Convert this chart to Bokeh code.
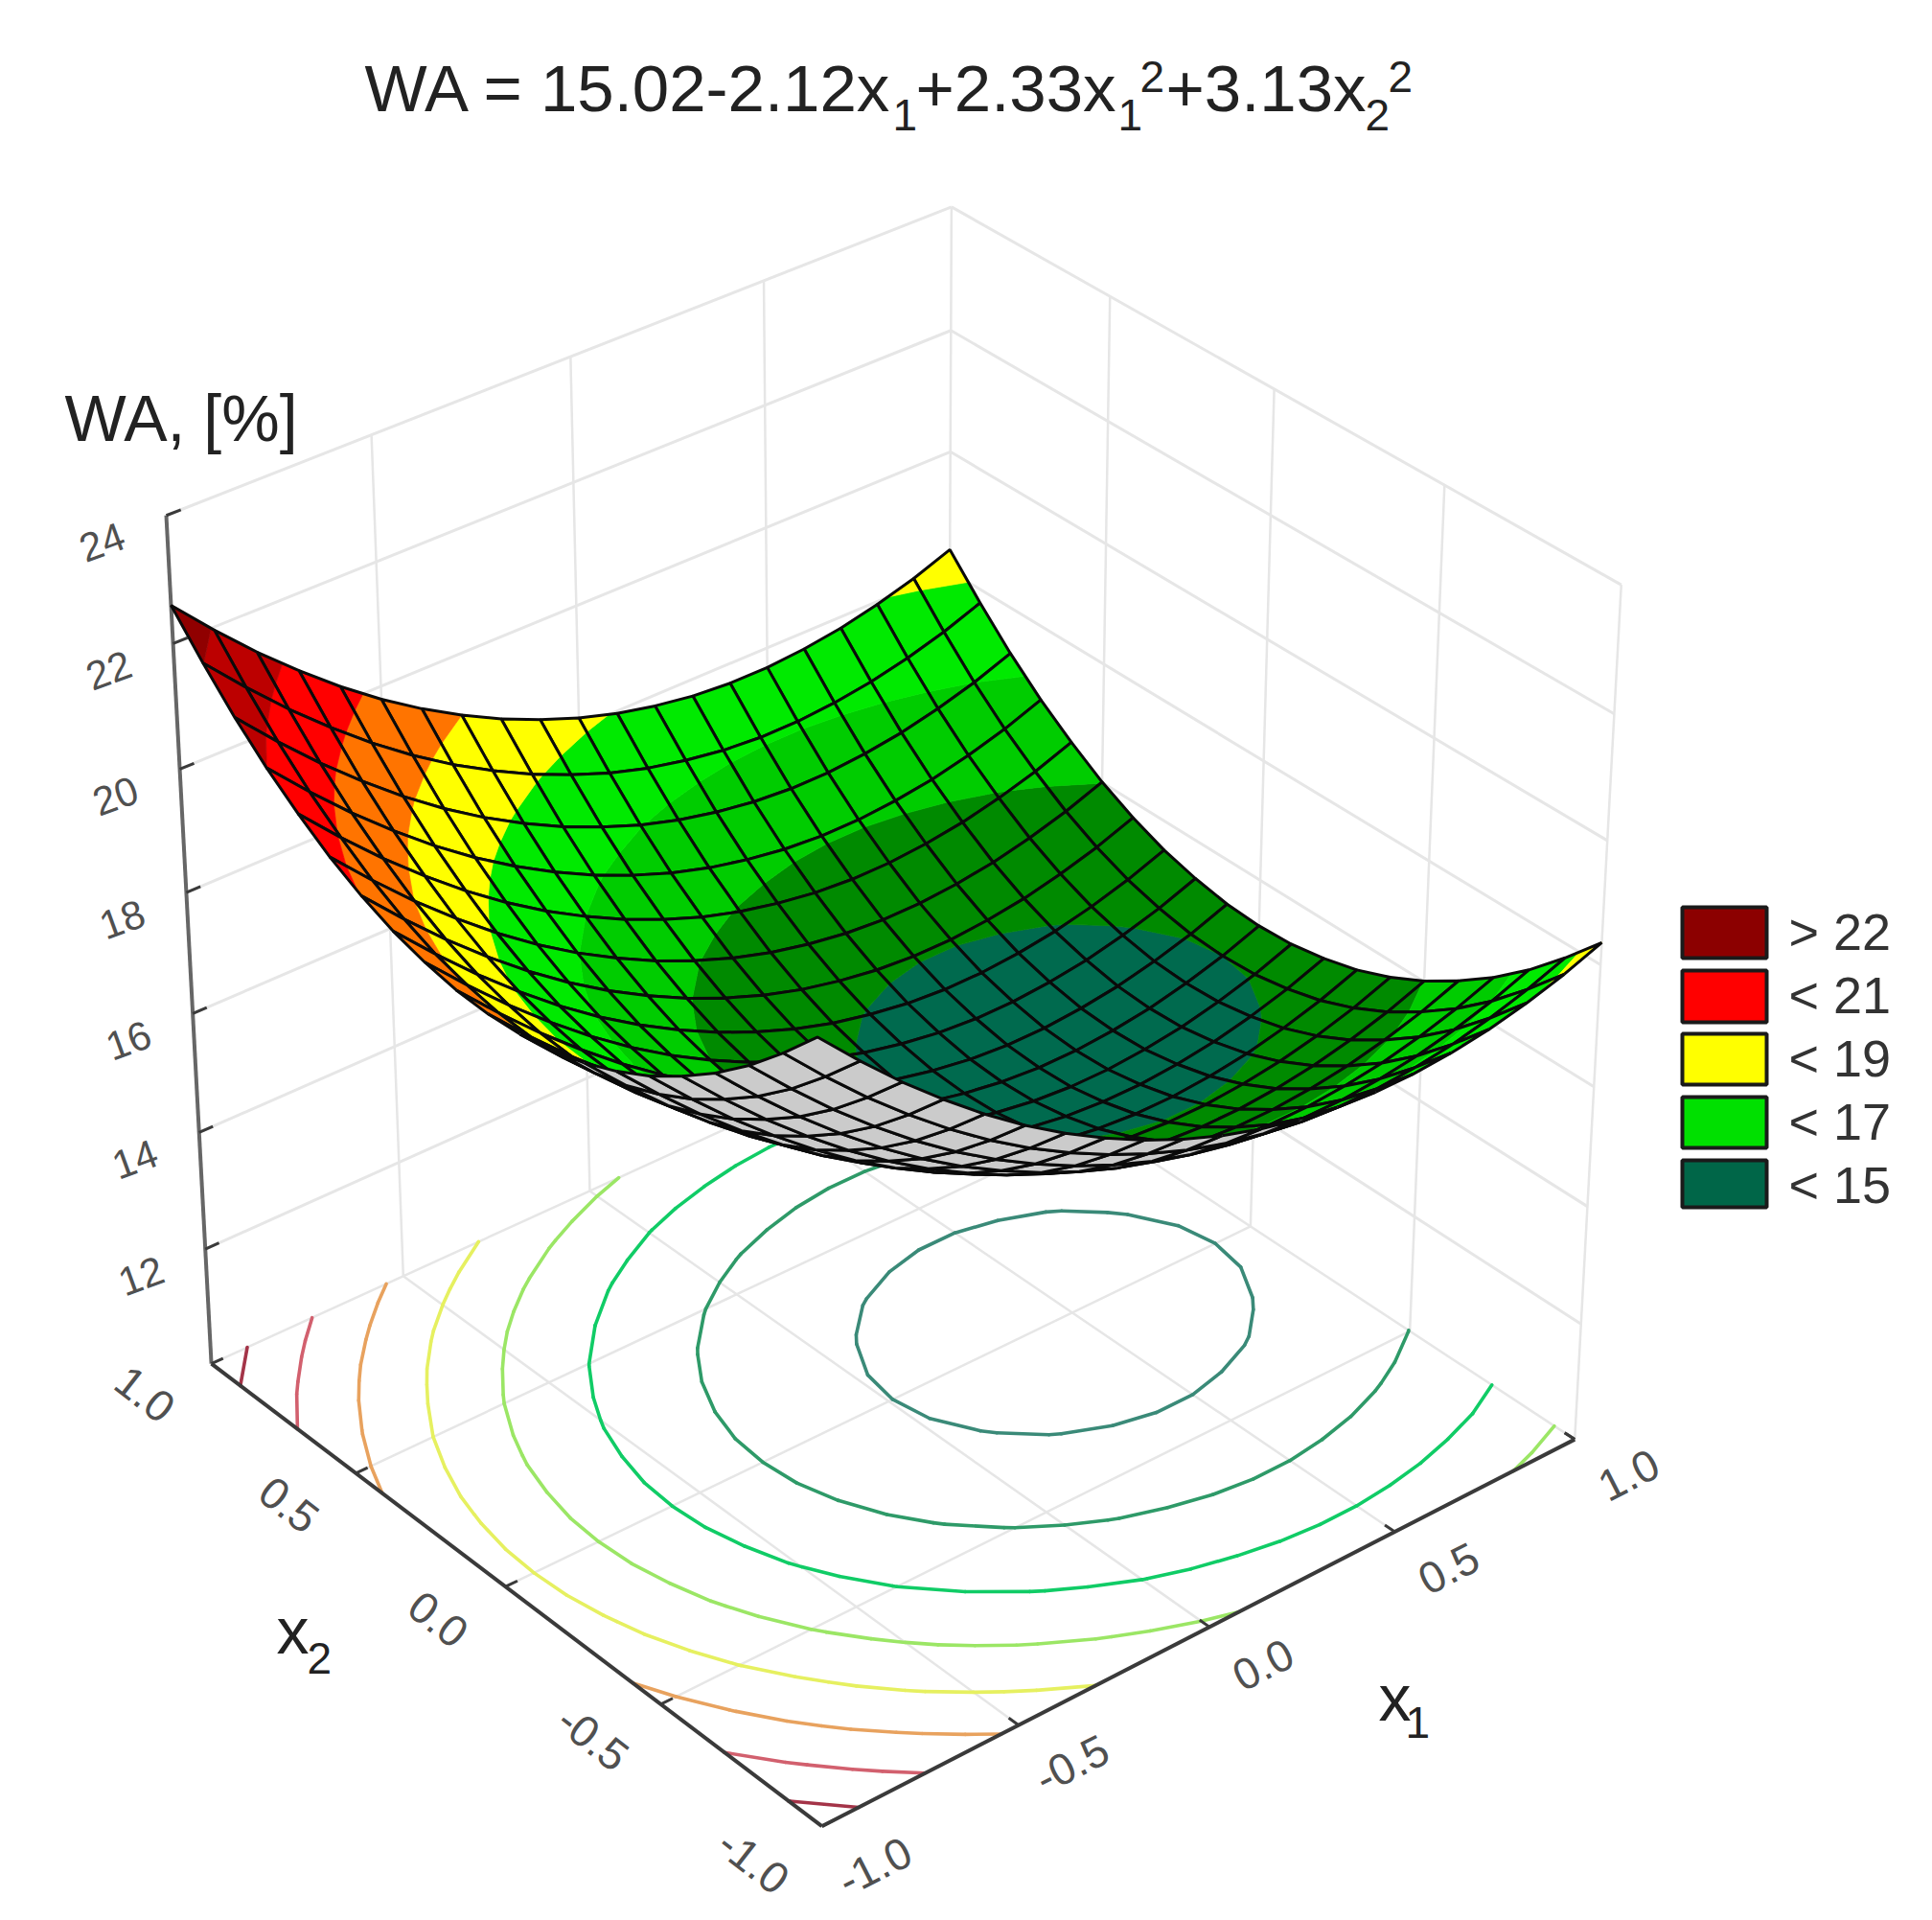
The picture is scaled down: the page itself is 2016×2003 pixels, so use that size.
import numpy as np
from bokeh.plotting import figure
from bokeh.embed import file_html
from bokeh.resources import INLINE
from bokeh.core.properties import value
from bokeh.models import ColumnDataSource, Range1d

# ---------- chart values ----------
x1_grid = [-1.0,-0.9,-0.8,-0.7,-0.6,-0.5,-0.4,-0.3,-0.2,-0.1,0.0,0.1,0.2,0.3,0.4,0.5,0.6,0.7,0.8,0.9,1.0]
x2_grid = [-1.0,-0.9,-0.8,-0.7,-0.6,-0.5,-0.4,-0.3,-0.2,-0.1,0.0,0.1,0.2,0.3,0.4,0.5,0.6,0.7,0.8,0.9,1.0]

wa_x2_00 = [19.47,18.82,18.21,17.65,17.13,16.66,16.24,15.87,15.54,15.26,15.02,14.83,14.69,14.59,14.54,14.54,14.59,14.68,14.82,15.00,15.23]
wa_x2_01 = [19.50,18.85,18.24,17.68,17.16,16.69,16.27,15.90,15.57,15.29,15.05,14.86,14.72,14.62,14.57,14.57,14.62,14.71,14.85,15.03,15.26]
wa_x2_02 = [19.60,18.95,18.34,17.78,17.26,16.79,16.37,16.00,15.67,15.39,15.15,14.96,14.82,14.72,14.67,14.67,14.72,14.81,14.95,15.13,15.36]
wa_x2_03 = [19.75,19.10,18.49,17.93,17.41,16.94,16.52,16.15,15.82,15.54,15.30,15.11,14.97,14.87,14.82,14.82,14.87,14.96,15.10,15.28,15.51]
wa_x2_04 = [19.97,19.32,18.71,18.15,17.63,17.16,16.74,16.37,16.04,15.76,15.52,15.33,15.19,15.09,15.04,15.04,15.09,15.18,15.32,15.50,15.73]
wa_x2_05 = [20.25,19.60,18.99,18.43,17.91,17.44,17.02,16.65,16.32,16.04,15.80,15.61,15.47,15.37,15.32,15.32,15.37,15.46,15.60,15.78,16.01]
wa_x2_06 = [20.60,19.95,19.34,18.78,18.26,17.79,17.37,17.00,16.67,16.39,16.15,15.96,15.82,15.72,15.67,15.67,15.72,15.81,15.95,16.13,16.36]
wa_x2_07 = [21.00,20.35,19.74,19.18,18.66,18.19,17.77,17.40,17.07,16.79,16.55,16.36,16.22,16.12,16.07,16.07,16.12,16.21,16.35,16.53,16.76]
wa_x2_08 = [21.47,20.82,20.21,19.65,19.13,18.66,18.24,17.87,17.54,17.26,17.02,16.83,16.69,16.59,16.54,16.54,16.59,16.68,16.82,17.00,17.23]
wa_x2_09 = [22.01,21.36,20.75,20.19,19.67,19.20,18.78,18.41,18.08,17.80,17.56,17.37,17.23,17.13,17.08,17.08,17.13,17.22,17.36,17.54,17.77]
wa_x2_10 = [22.60,21.95,21.34,20.78,20.26,19.79,19.37,19.00,18.67,18.39,18.15,17.96,17.82,17.72,17.67,17.67,17.72,17.81,17.95,18.13,18.36]
wa_rows = [wa_x2_10,wa_x2_09,wa_x2_08,wa_x2_07,wa_x2_06,wa_x2_05,wa_x2_04,wa_x2_03,wa_x2_02,wa_x2_01,wa_x2_00,
           wa_x2_01,wa_x2_02,wa_x2_03,wa_x2_04,wa_x2_05,wa_x2_06,wa_x2_07,wa_x2_08,wa_x2_09,wa_x2_10]

z_ticks = [12,14,16,18,20,22,24]
x_ticks = [-1.0,-0.5,0.0,0.5,1.0]
x_tick_labels = ["-1.0","-0.5","0.0","0.5","1.0"]

band_edges = [-99,15,16,17,18,19,20,21,22,99]
band_colors = ["#006a4e","#008a00","#00cc00","#00ea00","#ffff00","#ff7400","#ff0000","#bc0000","#900000"]
underside_color = "#cbcbcb"

contour_levels = [15,16,17,18,19,20,21,22]
contour_colors = ["#3a8a78","#2e9a68","#10cc66","#9be665","#e6f060","#e8a25e","#d2606e","#a43448"]

legend_labels = ["> 22","< 21","< 19","< 17","< 15"]
legend_colors = ["#8c0000","#ff0000","#ffff00","#00e000","#006648"]

FONT = value("Liberation Sans")

# ---------- camera: perspective fitted to the reference's box corners ----------
camera_fit = [
    (-1, 1,10, 217,1423),(-1,-1,10, 858,1906),( 1,-1,10,1645,1499),( 1, 1,10, 990,1075),
    (-1, 1,24, 171, 536),( 1, 1,24, 990, 215),( 1,-1,24,1692, 608),
    (-1, 1,20, 191, 797),(-1, 1,16, 203,1052),
    (-1, 1,22.6,178, 634),( 1, 1,18.36,990,575),( 1,-1,18.36,1671,982),(-1,-1,22.6,853,1088),
    ( 0.5,-1,10,1454,1598),( 0,-1,10,1262,1694),(-0.5,-1,10,1058,1799),
    (-1,0.5,10,370,1538),(-1,0,10,529,1656),(-1,-0.5,10,689,1776),
]
A, b = [], []
for X, Y, Z, u, v in camera_fit:
    Zn = (Z-17)/7; un = (u-1000)/1000; vn = (v-1000)/1000
    A.append([X,Y,Zn,1,0,0,0,0,-un*X,-un*Y,-un*Zn]); b.append(un)
    A.append([0,0,0,0,X,Y,Zn,1,-vn*X,-vn*Y,-vn*Zn]); b.append(vn)
h = np.linalg.lstsq(np.array(A,float), np.array(b,float), rcond=None)[0]

def project(x1, x2, z):
    Zn = (z-17)/7
    w = h[8]*x1+h[9]*x2+h[10]*Zn+1
    return (1000+1000*(h[0]*x1+h[1]*x2+h[2]*Zn+h[3])/w,
            1000+1000*(h[4]*x1+h[5]*x2+h[6]*Zn+h[7])/w)

# ---------- figure: one unit is one page pixel ----------
p = figure(width=2000, height=1987, output_backend="svg", toolbar_location=None,
           x_range=Range1d(0,2000), y_range=Range1d(1987,0), min_border=0,
           background_fill_color="white", border_fill_color="white", outline_line_color=None)
p.axis.visible = False
p.grid.visible = False

def seg(a, b, color, width):
    ua, va = project(*a); ub, vb = project(*b)
    return ([ua,ub],[va,vb],color,width)

lines = []
WALL = "#e6e6e6"
for z in z_ticks:
    lines.append(seg((-1,1,z),(1,1,z),WALL,3))
    lines.append(seg((1,1,z),(1,-1,z),WALL,3))
for t in x_ticks[1:]:
    lines.append(seg((t,1,10),(t,1,24),WALL,2.5))
for t in x_ticks[:-1]:
    lines.append(seg((1,t,10),(1,t,24),WALL,2.5))
for t in x_ticks:
    lines.append(seg((t,-1,10),(t,1,10),WALL,2.5))
    lines.append(seg((-1,t,10),(1,t,10),WALL,2.5))
p.multi_line([l[0] for l in lines],[l[1] for l in lines],line_color=[l[2] for l in lines],line_width=[l[3] for l in lines])

# ---------- contours on the floor, traced through the table ----------
cx, cy, cc = [], [], []
for lev, col in zip(contour_levels, contour_colors):
    for j in range(20):
        for i in range(20):
            corners = [(i,j),(i+1,j),(i+1,j+1),(i,j+1)]
            pts = []
            for k in range(4):
                i0,j0 = corners[k]; i1,j1 = corners[(k+1)%4]
                z0 = wa_rows[j0][i0]; z1 = wa_rows[j1][i1]
                if (z0 >= lev) != (z1 >= lev):
                    t = (lev-z0)/(z1-z0)
                    pts.append((x1_grid[i0]+t*(x1_grid[i1]-x1_grid[i0]), x2_grid[j0]+t*(x2_grid[j1]-x2_grid[j0])))
            if len(pts) >= 2:
                ua,va = project(pts[0][0],pts[0][1],10); ub,vb = project(pts[1][0],pts[1][1],10)
                cx.append([ua,ub]); cy.append([va,vb]); cc.append(col)
p.multi_line(cx,cy,line_color=cc,line_width=3.6,line_cap="round")

# ---------- axes ----------
AX = "#3a3a3a"
axl = [seg((-1,1,10),(-1,1,24),"#666666",4), seg((-1,1,10),(-1,-1,10),AX,4), seg((-1,-1,10),(1,-1,10),AX,4)]
for z in z_ticks:
    axl.append(seg((-1,1,z),(-0.965,1,z),AX,3))
for t in x_ticks[1:]:
    axl.append(seg((t,-1,10),(t,-0.97,10),AX,3))
for t in x_ticks[:-1]:
    axl.append(seg((-1,t,10),(-0.97,t,10),AX,3))
axl.append(seg((1,-1,10),(1,-0.97,10),AX,3))
axl.append(seg((-1,1,10),(-0.97,1,10),AX,3))
p.multi_line([l[0] for l in axl],[l[1] for l in axl],line_color=[l[2] for l in axl],line_width=[l[3] for l in axl])

# ---------- surface, back to front ----------
def clip(poly, lev, keep_above):
    out = []
    n = len(poly)
    for k in range(n):
        a = poly[k]; b = poly[(k+1)%n]
        ina = a[2] >= lev if keep_above else a[2] <= lev
        inb = b[2] >= lev if keep_above else b[2] <= lev
        if ina: out.append(a)
        if ina != inb:
            t = (lev-a[2])/(b[2]-a[2])
            out.append((a[0]+t*(b[0]-a[0]), a[1]+t*(b[1]-a[1]), lev))
    return out

sx, sy, fc, fa, lc, la, lw = [], [], [], [], [], [], []
for j in range(19,-1,-1):
    for i in range(19,-1,-1):
        quad = []
        for jj,ii in ((j,i),(j,i+1),(j+1,i+1),(j+1,i)):
            z = wa_rows[jj][ii]
            u,v = project(x1_grid[ii],x2_grid[jj],z)
            quad.append((u,v,z))
        area = sum(quad[k][0]*quad[(k+1)%4][1]-quad[(k+1)%4][0]*quad[k][1] for k in range(4))/2
        if area < 0:
            for b0,b1,col in zip(band_edges[:-1],band_edges[1:],band_colors):
                frag = clip(clip(quad,b0,True),b1,False)
                if len(frag) >= 3:
                    sx.append([q[0] for q in frag]); sy.append([q[1] for q in frag])
                    fc.append(col); fa.append(1.0); lc.append(col); la.append(1.0); lw.append(0.7)
        else:
            sx.append([q[0] for q in quad]); sy.append([q[1] for q in quad])
            fc.append(underside_color); fa.append(1.0); lc.append(underside_color); la.append(1.0); lw.append(0.7)
        sx.append([q[0] for q in quad]); sy.append([q[1] for q in quad])
        fc.append("#000000"); fa.append(0.0); lc.append("#0a0a0a"); la.append(1.0); lw.append(3.0)
p.patches(xs="sx", ys="sy", fill_color="fc", fill_alpha="fa", line_color="lc", line_alpha="la", line_width="lw",
          source=ColumnDataSource(dict(sx=sx,sy=sy,fc=fc,fa=fa,lc=lc,la=la,lw=lw)))

# ---------- tick labels ----------
def label(x, y, s, size, angle=0.0, color="#505050", align="center", base="middle"):
    if base == "alphabetic":
        y = y - 0.4*size
    p.text([x],[y],text=[s],text_font=FONT,text_font_size=f"{size}px",text_color=color,
           angle=np.radians(angle),text_align=align,text_baseline=base)

for z in z_ticks:
    u,v = project(-1,1,z)
    label(u-67,v+28,str(z),42,20)
for t,s in zip(x_ticks,x_tick_labels):
    u,v = project(t,-1.16,10)
    label(u,v,s,46,27)
    u,v = project(-1.17,t,10)
    label(u,v,s,46,-38)

# ---------- titles ----------
INK = "#222222"
title_runs = [(380,120,"WA = 15.02-2.12x",69),(931,138,"1",46),(955,120,"+2.33x",69),(1166,138,"1",46),
              (1189,98,"2",46),(1216,120,"+3.13x",69),(1424,138,"2",46),(1448,98,"2",46)]
for x,y,s,sz in title_runs:
    label(x,y,s,sz,0,INK,"left","alphabetic")
label(67,463,"WA, [%]",68,0,INK,"left","alphabetic")
label(288,1728,"x",68,0,INK,"left","alphabetic")
label(320,1748,"2",46,0,INK,"left","alphabetic")
label(1438,1798,"x",68,0,INK,"left","alphabetic")
label(1466,1815,"1",46,0,INK,"left","alphabetic")

# ---------- legend ----------
legend_top = [946,1012,1078,1144,1210]
legend_bottom = [999,1066,1131,1197,1259]
p.quad(left=1755,right=1843,top=legend_top,bottom=legend_bottom,
       fill_color=legend_colors,line_color="#1a1a1a",line_width=4)
for t,s in zip(legend_top,legend_labels):
    label(1866,t+47,s,54,0,"#333333","left","alphabetic")

open("out.html","w").write(file_html(p,INLINE))
